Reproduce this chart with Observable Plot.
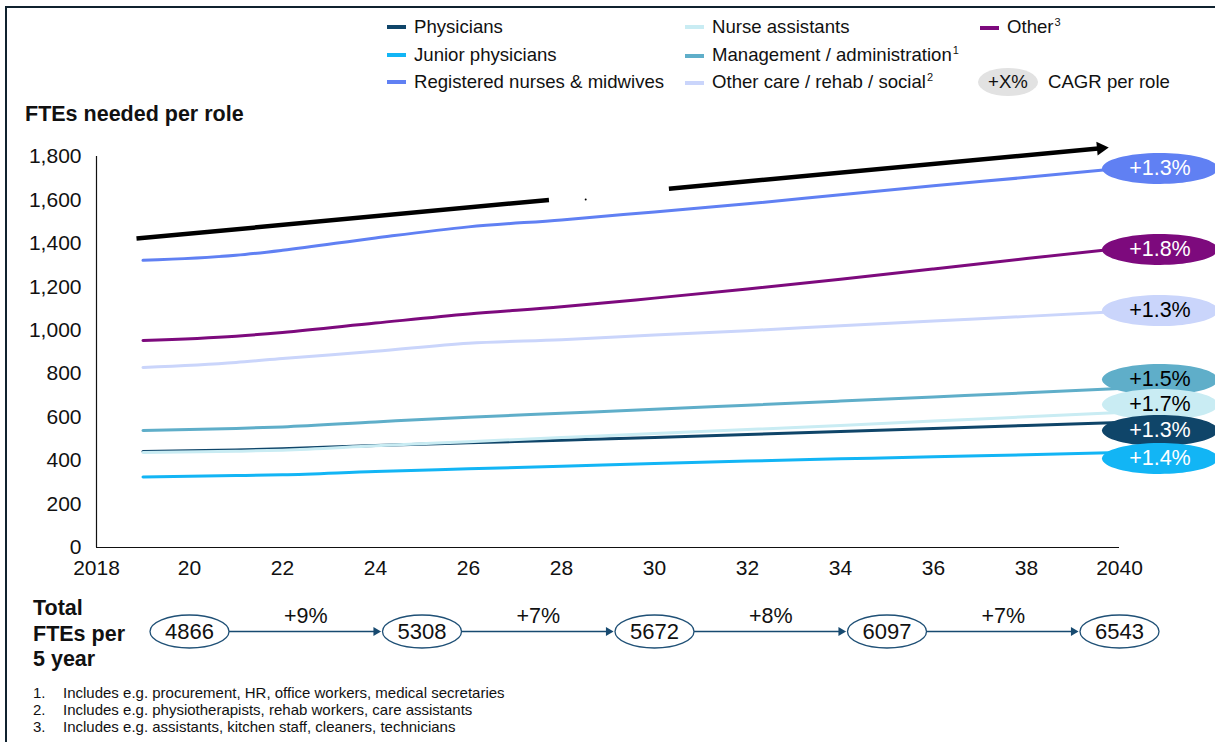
<!DOCTYPE html>
<html>
<head>
<meta charset="utf-8">
<script src="https://cdn.jsdelivr.net/npm/d3@7"></script>
<script src="https://cdn.jsdelivr.net/npm/@observablehq/plot@0.6"></script>
<style>
  body { margin: 0; background: #fff; font-family: "Liberation Sans", Arial, sans-serif; color: #111; }
  #page { position: relative; width: 1215px; height: 742px; overflow: hidden; background: #fff; }
  #frame { position: absolute; left: 5px; top: 6px; width: 1230px; height: 760px; border-left: 2.5px solid #10222f; border-top: 2.5px solid #10222f; pointer-events: none; }
  .abs { position: absolute; }
  #main { position: absolute; left: 0; top: 0; }
  #totals { position: absolute; left: 0; top: 590px; }
  .leg { position: absolute; display: flex; align-items: center; font-size: 18.6px; line-height: 22px; white-space: nowrap; color: #111; }
  .sw { display: inline-block; width: 19px; height: 4px; margin-right: 8px; }
  sup { font-size: 11px; vertical-align: 0; position: relative; top: -7px; margin-left: 1px; }
  #title { left: 25px; top: 101px; font-size: 21.5px; font-weight: bold; line-height: 26px; }
  #totlab { left: 33px; top: 596px; font-size: 21.5px; font-weight: bold; line-height: 25.5px; }
  #notes { left: 33px; top: 684px; font-size: 15px; line-height: 17px; color: #111; }
  #notes div { display: flex; }
  #notes span.n { width: 30px; }
  #cagrkey { position: absolute; left: 978px; top: 68px; width: 60px; height: 28px; border-radius: 50%; background: #e2e2e2; font-size: 18.6px; line-height: 28px; text-align: center; }
  #cagrkeytxt { left: 1048px; top: 71px; font-size: 18.6px; line-height: 22px; }
</style>
</head>
<body>
<div id="page">
  <div id="main"></div>
  <div id="totals"></div>
  <div id="legend"></div>
  <div id="cagrkey">+X%</div>
  <div class="abs" id="cagrkeytxt">CAGR per role</div>
  <div class="abs" id="title">FTEs needed per role</div>
  <div class="abs" id="totlab">Total<br>FTEs per<br>5 year</div>
  <div class="abs" id="notes"></div>
  <div id="frame"></div>
</div>
<script>
// ---------- data ----------
const years = [2019, 2021, 2022, 2024, 2026, 2028, 2030, 2032, 2034, 2036, 2038, 2040];

const physicians      = [442, 449, 455, 470, 482, 494, 506, 520, 534, 548, 562, 576];
const juniorPhysicians= [325, 331, 335, 350, 362, 374, 387, 398, 408, 418, 427, 437];
const registeredNurses= [1322, 1345, 1368, 1425, 1476, 1508, 1545, 1582, 1624, 1665, 1704, 1745];
const nurseAssistants = [437, 443, 448, 468, 487, 506, 525, 543, 562, 582, 602, 622];
const management      = [539, 548, 555, 578, 600, 618, 636, 655, 674, 693, 712, 732];
const otherCare       = [829, 852, 870, 903, 940, 956, 978, 998, 1021, 1043, 1064, 1087];
const other           = [953, 973, 990, 1033, 1075, 1108, 1148, 1190, 1235, 1282, 1330, 1377];

const roles = ["Physicians", "Junior physicians", "Registered nurses & midwives", "Nurse assistants",
               "Management / administration", "Other care / rehab / social", "Other"];
const roleSeries = [physicians, juniorPhysicians, registeredNurses, nurseAssistants, management, otherCare, other];
const roleColors = ["#0f4569", "#12b5f5", "#6080f3", "#c9ecf3", "#5faec9", "#cad5fb", "#7d0a7d"];
const legendLabels = ["Physicians", "Junior physicians", "Registered nurses &amp; midwives", "Nurse assistants",
                      "Management / administration<sup>1</sup>", "Other care / rehab / social<sup>2</sup>", "Other<sup>3</sup>"];

const cagrText       = ["+1.3%", "+1.4%", "+1.3%", "+1.7%", "+1.5%", "+1.3%", "+1.8%"];
const cagrTextColor  = ["#ffffff", "#ffffff", "#ffffff", "#000000", "#000000", "#000000", "#ffffff"];
const cagrLabelValue = [539, 410, 1745, 658, 773, 1091, 1372];
const cagrLabelYear  = 2040.87;

const yTicks = [0, 200, 400, 600, 800, 1000, 1200, 1400, 1600, 1800];
const xTicks = [2018, 2020, 2022, 2024, 2026, 2028, 2030, 2032, 2034, 2036, 2038, 2040];

// overall trend arrow (with a gap in the middle)
const trendYears  = [2018.86, 2027.73, 2030.31, 2039.6];
const trendValues = [1422, 1600, 1652, 1838];
const trendSpeck  = [{year: 2028.52, value: 1602}];

const totalYears  = [2020, 2025, 2030, 2035, 2040];
const totalValues = [4866, 5308, 5672, 6097, 6543];
const totalGrowth = ["+9%", "+7%", "+8%", "+7%"];

const footnotes = [
  "Includes e.g. procurement, HR, office workers, medical secretaries",
  "Includes e.g. physiotherapists, rehab workers, care assistants",
  "Includes e.g. assistants, kitchen staff, cleaners, technicians"
];

// ---------- helpers ----------
function ellipseSymbol(rx, ry) {
  const k = 0.5522848;
  return {
    draw(ctx) {
      ctx.moveTo(-rx, 0);
      ctx.bezierCurveTo(-rx, -ry * k, -rx * k, -ry, 0, -ry);
      ctx.bezierCurveTo(rx * k, -ry, rx, -ry * k, rx, 0);
      ctx.bezierCurveTo(rx, ry * k, rx * k, ry, 0, ry);
      ctx.bezierCurveTo(-rx * k, ry, -rx, ry * k, -rx, 0);
      ctx.closePath();
    }
  };
}

const table = roles.flatMap((role, i) => years.map((year, j) => ({role, year, value: roleSeries[i][j]})));
const ends = roles.map((role, i) => ({
  role, year: years[years.length - 1], value: roleSeries[i][roleSeries[i].length - 1],
  labelYear: cagrLabelYear, labelValue: cagrLabelValue[i],
  text: cagrText[i], fill: roleColors[i], textColor: cagrTextColor[i]
})).sort((a, b) => b.labelValue - a.labelValue);

const trendSegs = [
  {x1: trendYears[0], y1: trendValues[0], x2: trendYears[1], y2: trendValues[1]},
  {x1: trendYears[2], y1: trendValues[2], x2: trendYears[3], y2: trendValues[3]}
];
const xPx = 1023 / 22, yPx = 391 / 1800;
const headAngle = Math.atan2((trendValues[3] - trendValues[2]) * yPx, (trendYears[3] - trendYears[2]) * xPx) * 180 / Math.PI;

const font = `"Liberation Sans", Arial, sans-serif`;

// ---------- main chart ----------
const main = Plot.plot({
  width: 1215, height: 590,
  marginLeft: 96, marginRight: 96, marginTop: 156, marginBottom: 43,
  style: {fontFamily: font, fontSize: "21px", color: "#111", background: "transparent", overflow: "visible"},
  x: {domain: [2018, 2040], ticks: xTicks, tickFormat: d => (d === 2018 || d === 2040) ? String(d) : String(d).slice(2), tickSize: 0, tickPadding: 13, label: null},
  y: {domain: [0, 1800], ticks: yTicks, tickFormat: d3.format(","), tickSize: 0, tickPadding: 15, label: null},
  color: {domain: roles, range: roleColors},
  marks: [
    Plot.ruleX([2018], {y1: 0, y2: 1800, stroke: "#111", strokeWidth: 1.2}),
    Plot.ruleY([0], {x1: 2018, x2: 2040, stroke: "#111", strokeWidth: 1.2}),
    Plot.link(trendSegs, {x1: "x1", y1: "y1", x2: "x2", y2: "y2", stroke: "#000", strokeWidth: 4.5}),
    Plot.dot(trendSpeck, {x: "year", y: "value", r: 1, fill: "#000"}),
    Plot.dot([{year: trendYears[3], value: trendValues[3]}], {x: "year", y: "value", symbol: "triangle2", r: 6.5, fill: "#000", rotate: 90 - headAngle}),
    Plot.line(table, {x: "year", y: "value", z: "role", stroke: "role", strokeWidth: 3, curve: "monotone-x"}),
    Plot.link(ends, {x1: "year", y1: "value", x2: "labelYear", y2: "labelValue", stroke: d => d.fill, strokeWidth: 3}),
    Plot.dot(ends, {x: "labelYear", y: "labelValue", symbol: ellipseSymbol(58, 15.5), r: 10, fill: d => d.fill, stroke: "none"}),
    Plot.text(ends, {x: "labelYear", y: "labelValue", text: "text", fill: d => d.textColor, fontSize: 21.5, dy: 0})
  ]
});
document.getElementById("main").appendChild(main);

// ---------- totals row ----------
const totalsData = totalYears.map((year, i) => ({year, value: totalValues[i]}));
const growthData = d3.pairs(totalYears).map(([a, b], i) => ({x1: a, x2: b, mid: (a + b) / 2, text: totalGrowth[i]}));
const totalsPlot = Plot.plot({
  width: 1215, height: 82,
  marginLeft: 96, marginRight: 96, marginTop: 0, marginBottom: 0,
  style: {fontFamily: font, color: "#111", background: "transparent", overflow: "visible"},
  x: {domain: [2018, 2040], axis: null},
  y: {domain: [0, 1], axis: null},
  marks: [
    Plot.arrow(growthData, {x1: "x1", x2: "x2", y1: () => 0.5, y2: () => 0.5, stroke: "#174a70", strokeWidth: 1.4, headLength: 0, insetStart: 39, insetEnd: 45}),
    Plot.dot(growthData, {x: "x2", y: () => 0.5, dx: -46, symbol: "triangle2", r: 4.2, fill: "#174a70", rotate: 90}),
    Plot.text(growthData, {x: "mid", y: () => 0.5, text: "text", fontSize: 21.5, dy: -15, fill: "#111"}),
    Plot.dot(totalsData, {x: "year", y: () => 0.5, symbol: ellipseSymbol(39.5, 16.5), r: 10, fill: "#fff", stroke: "#1f5076", strokeWidth: 1.3}),
    Plot.text(totalsData, {x: "year", y: () => 0.5, text: d => String(d.value), fontSize: 22, fill: "#111"})
  ]
});
document.getElementById("totals").appendChild(totalsPlot);

// ---------- legend ----------
const legendPos = [
  [387, 27], [387, 55], [387, 82],
  [685, 27], [685, 55], [685, 82],
  [980, 27]
];
const legendOrder = [0, 1, 2, 3, 4, 5, 6];
const leg = document.getElementById("legend");
legendOrder.forEach((ri, k) => {
  const [lx, ly] = legendPos[k];
  const d = document.createElement("div");
  d.className = "leg";
  d.style.left = lx + "px";
  d.style.top = (ly - 11) + "px";
  d.innerHTML = `<span class="sw" style="background:${roleColors[ri]}"></span><span>${legendLabels[ri]}</span>`;
  leg.appendChild(d);
});

// ---------- footnotes ----------
const notes = document.getElementById("notes");
footnotes.forEach((t, i) => {
  const d = document.createElement("div");
  d.innerHTML = `<span class="n">${i + 1}.</span><span>${t}</span>`;
  notes.appendChild(d);
});
</script>
</body>
</html>
